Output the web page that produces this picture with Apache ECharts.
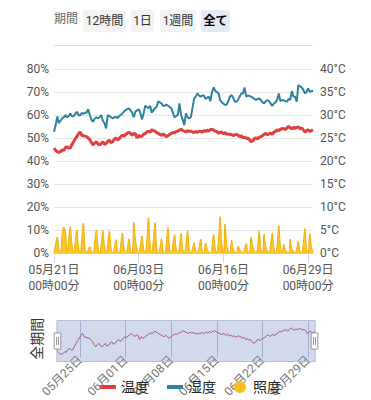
<!DOCTYPE html>
<html><head><meta charset="utf-8">
<script src="https://cdn.jsdelivr.net/npm/echarts@6/dist/echarts.min.js"></script>
<style>html,body{margin:0;padding:0;background:#fff}#c{width:371px;height:400px}</style>
</head><body><div id="c"></div>
<script>
// time axis: 6-hour samples starting 05月21日 00:00
const startTime = Date.UTC(2024, 4, 21, 0, 0);
const stepHours = 6;

const temperature = [
22.8,22.3,22.0,21.9, 22.0,22.4,22.3,22.9, 23.1,22.8,22.8,23.6, 24.2,24.8,25.3,25.9,
26.3,25.6,25.5,25.4, 25.3,25.0,24.6,24.0, 23.5,23.9,24.2,23.7, 23.5,23.8,24.2,23.6,
23.8,24.3,24.5,24.0, 24.2,24.7,25.0,24.6, 24.8,25.3,25.6,25.4, 25.8,26.0,26.3,26.0,
25.6,26.0,25.9,25.0, 25.6,25.3,25.4,25.8, 26.0,26.3,26.4,26.3, 26.8,26.6,26.5,26.2,
26.0,25.8,25.6,25.9, 25.6,25.3,25.5,25.8, 26.0,26.2,26.1,26.4, 26.5,26.7,26.9,26.6,
26.5,26.3,26.6,26.4, 26.5,26.3,26.2,26.4, 26.2,26.5,26.4,26.3, 26.6,26.4,26.7,26.5,
26.8,26.9,26.7,26.5, 26.4,26.0,26.3,26.2, 25.9,26.2,25.8,25.9, 25.7,25.8,25.5,25.7,
25.8,25.6,25.3,25.5, 25.0,25.2,24.9,25.0, 24.6,24.2,24.4,24.9, 25.0,24.8,25.2,25.3,
25.5,25.8,26.0,25.7, 25.9,26.1,25.8,26.3, 26.4,26.8,26.6,26.9, 27.0,27.1,26.8,27.2,
27.5,27.2,27.0,27.3, 27.1,27.3,27.4,27.0, 27.2,26.8,26.3,26.6, 26.8,26.4,26.6,26.8
];
const humidity = [
52.7,55.5,59.3,56.4, 57.5,58.5,59.0,60.0, 59.0,59.5,60.7,59.5, 59.5,60.5,61.4,60.0,
59.8,60.9,60.5,61.0, 61.0,62.5,60.0,58.0, 57.0,58.5,59.0,58.5, 59.0,60.0,57.5,56.4,
54.2,60.0,59.5,59.0, 58.5,59.0,59.2,58.6, 59.5,60.0,60.7,61.5, 62.2,62.5,62.9,62.0,
61.0,59.0,61.5,62.0, 62.5,61.0,58.0,60.5, 64.0,63.5,63.0,64.0, 61.0,62.0,63.0,63.5,
66.0,65.5,65.0,64.0, 64.0,64.5,64.0,63.5, 63.0,61.0,59.0,59.5, 60.0,65.0,60.0,58.0,
55.6,60.7,59.0,58.5, 59.0,63.0,67.0,68.0, 69.4,68.5,68.0,68.5, 68.5,67.0,67.5,68.0,
66.0,70.0,72.0,70.5, 70.0,69.4,66.5,65.5, 65.0,64.3,64.5,66.0, 68.0,68.7,67.5,65.8,
65.8,66.6,68.0,69.4, 69.4,71.9,68.0,68.5, 68.3,68.0,67.5,67.0, 66.6,67.0,67.2,66.5,
65.5,65.0,66.0,66.5, 66.0,65.0,64.0,65.0, 65.5,66.6,69.4,66.0, 66.5,66.4,66.0,65.8,
67.0,66.6,70.4,68.0, 68.0,65.8,73.0,72.5, 72.0,71.0,69.4,70.0, 71.6,70.1,70.4,70.4
];
const illuminance = [
0,4,7,2, 0,8,11.2,10, 0,6,11.5,4, 0,5,10,3, 0,6,13,3, 0,1.5,2.8,1, 0,5,10,3, 0,4,9.8,3,
0,4,9.5,2, 0,2,5.8,1, 0,4,8.7,2, 0,2,6.2,1, 0,13.4,6,2, 0,3,7.4,2, 0,6,15.4,4, 0,6,13.2,3,
0,2,6.2,1, 0,5,11.1,2, 0,4,7.9,2, 0,3,8.5,2, 0,4,9.7,2, 0,2,4.6,1, 0,2,6.1,1, 0,4.3,2,0.5,
0,3,8,2, 0,6,15.8,4, 0,12.6,4,1, 0,5.6,2,0.5, 0,3.1,1.5,0.5, 0,2,4.1,1, 0,7,3,1, 0,3,9.6,2,
0,8.1,3,1, 0,4,8.8,2, 0,4,12,3, 0,3.7,1.5,0.5, 0,6.1,2,1, 0,2,5.1,1, 0,4,10.7,2, 0,8.4,3,0
];
const seriesNames = ['温度', '湿度', '照度'];
const periodButtons = ['12時間', '1日', '1週間', '全て'];

const pad = n => String(n).padStart(2, '0');
const categories = temperature.map((_, i) => {
  const d = new Date(startTime + i * stepHours * 3600000);
  return pad(d.getUTCMonth() + 1) + '月' + pad(d.getUTCDate()) + '日\n' + pad(d.getUTCHours()) + '時' + pad(d.getUTCMinutes()) + '分';
});

const FONT = 'Roboto, "Noto Sans CJK JP", sans-serif';
const chart = echarts.init(document.getElementById('c'), null, {renderer: 'svg'});

const btnBoxes = [[83, 43], [131, 23], [160, 36], [201, 29]];
const graphics = [
  {type: 'text', left: 54, top: 13, style: {text: '期間', fill: '#666', fontSize: 12, fontFamily: FONT}},
  {type: 'line', shape: {x1: 54, y1: 45.5, x2: 313, y2: 45.5}, style: {stroke: '#dddddd', lineWidth: 1}}
];
periodButtons.forEach((t, i) => {
  const [x, w] = btnBoxes[i];
  const sel = i === periodButtons.length - 1;
  graphics.push({type: 'rect', shape: {x: x, y: 10, width: w, height: 22, r: 3},
    style: {fill: sel ? '#e5eaf5' : '#f3f3f3'}});
  graphics.push({type: 'text', x: x + w / 2, y: 21,
    style: {text: t, fill: sel ? '#000' : '#333', fontSize: 12, fontWeight: sel ? 'bold' : 'normal',
      fontFamily: FONT, align: 'center', verticalAlign: 'middle'}});
});

const miniLabel = (idx) => (idx % 28) === 16;

chart.setOption({
  animation: false,
  textStyle: {fontFamily: FONT},
  graphic: graphics,
  grid: [
    {left: 54, right: 58, top: 69, height: 184},
    {left: 54, right: 58, top: 320, height: 42}
  ],
  xAxis: [
    {type: 'category', gridIndex: 0, data: categories, boundaryGap: false,
      axisLine: {lineStyle: {color: '#cccccc'}},
      axisTick: {show: true, interval: 51, length: 10, lineStyle: {color: '#d0d6e6'}},
      axisLabel: {interval: 51, color: '#555', fontSize: 12, lineHeight: 16, margin: 9, fontFamily: FONT},
      splitLine: {show: false}},
    {type: 'category', gridIndex: 1, data: categories, boundaryGap: false,
      axisLine: {show: false}, axisTick: {show: false},
      axisLabel: {interval: miniLabel, rotate: 45, color: '#777', fontSize: 12, margin: 0,
        fontFamily: FONT, formatter: v => v.split('\n')[0]},
      splitLine: {show: true, interval: miniLabel, lineStyle: {color: '#b4bcd4', width: 1}}}
  ],
  yAxis: [
    {type: 'value', gridIndex: 0, min: 0, max: 80, interval: 10,
      axisLabel: {formatter: '{value}%', color: '#555', fontSize: 12, margin: 5, fontFamily: FONT},
      axisLine: {show: false}, axisTick: {show: false},
      splitLine: {lineStyle: {color: '#e6e6e6'}}},
    {type: 'value', gridIndex: 0, min: 0, max: 40, interval: 5, position: 'right',
      axisLabel: {formatter: '{value}°C', color: '#555', fontSize: 12, margin: 7, fontFamily: FONT},
      axisLine: {show: false}, axisTick: {show: false}, splitLine: {show: false}},
    {type: 'value', gridIndex: 0, min: 0, max: 80, show: false},
    {type: 'value', gridIndex: 1, name: '全期間', nameLocation: 'middle', nameRotate: 90, nameGap: 10,
      nameTextStyle: {color: '#333', fontSize: 14, fontFamily: FONT},
      axisLine: {show: false}, axisTick: {show: false}, axisLabel: {show: false}, splitLine: {show: false}}
  ],
  dataZoom: [{
    type: 'slider', xAxisIndex: 0, start: 0, end: 100,
    left: 54, right: 58, top: 320, height: 42,
    backgroundColor: 'rgba(0,0,0,0)', borderColor: '#b8bed0',
    fillerColor: 'rgba(130,150,205,0.35)',
    showDataShadow: true,
    dataBackground: {lineStyle: {color: '#b5375d', width: 1, opacity: 1}, areaStyle: {opacity: 0}},
    selectedDataBackground: {lineStyle: {color: '#b5375d', width: 1, opacity: 1}, areaStyle: {opacity: 0}},
    handleIcon: 'path://M0,0 L10,0 L10,24 L0,24 Z M3.5,6 L3.5,18 M6.5,6 L6.5,18',
    handleSize: 16,
    handleStyle: {color: '#ffffff', borderColor: '#999999', borderWidth: 1},
    moveHandleSize: 0, showDetail: false, brushSelect: false, zoomLock: true
  }],
  legend: {
    left: 95, top: 375, itemWidth: 16, itemHeight: 12, itemGap: 18,
    textStyle: {color: '#222', fontSize: 14, fontFamily: FONT},
    data: [
      {name: seriesNames[0], icon: 'path://M0,0 L16,0 L16,4 L0,4 Z'},
      {name: seriesNames[1], icon: 'path://M0,0 L16,0 L16,4 L0,4 Z'},
      {name: seriesNames[2], icon: 'circle'}
    ]
  },
  series: [
    {name: seriesNames[0], type: 'line', xAxisIndex: 0, yAxisIndex: 1, data: temperature,
      symbol: 'none', color: '#e0403f', lineStyle: {width: 3, color: '#e0403f'}, z: 4},
    {name: seriesNames[1], type: 'line', xAxisIndex: 0, yAxisIndex: 0, data: humidity,
      symbol: 'none', color: '#2d83a0', lineStyle: {width: 2, color: '#2d83a0'}, z: 3},
    {name: seriesNames[2], type: 'line', xAxisIndex: 0, yAxisIndex: 2, data: illuminance,
      symbol: 'none', smooth: 0.4, color: '#f9bf1e', lineStyle: {width: 1, color: '#f2b000'},
      areaStyle: {color: '#fbc52f', opacity: 1}, z: 2}
  ]
});
</script></body></html>
